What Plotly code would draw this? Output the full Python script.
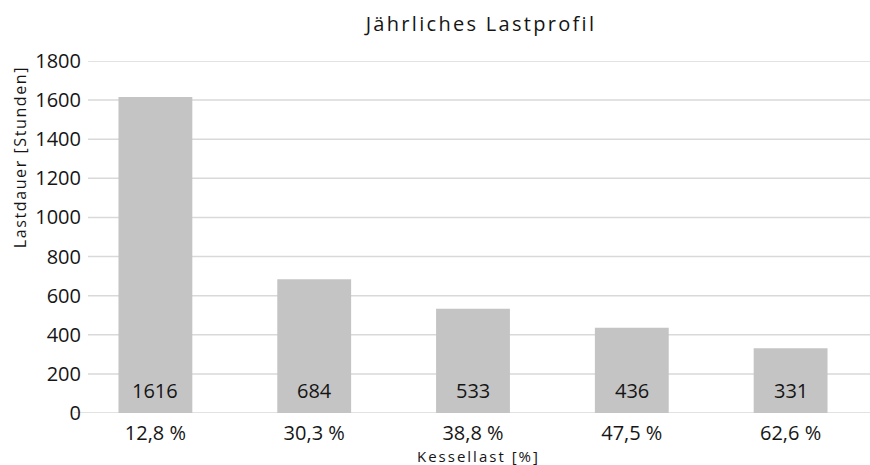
import plotly.graph_objects as go

# Annual load profile of the boiler
kessellast = ["12,8 %", "30,3 %", "38,8 %", "47,5 %", "62,6 %"]
lastdauer = [1616, 684, 533, 436, 331]
y_ticks = [0, 200, 400, 600, 800, 1000, 1200, 1400, 1600, 1800]

FONT = "Open Sans"
TEXT = "#151515"
BAR_COLOR = "#c4c4c4"
GRID_COLOR = "#d9d9d9"

# plot area in pixels (for placing titles relative to it)
L, R, T, B, W, H = 76, 870, 61, 413, 870, 465
PW, PH = R - L, B - T

fig = go.Figure(
    go.Bar(
        x=kessellast,
        y=lastdauer,
        marker=dict(color=BAR_COLOR, line=dict(width=0)),
        width=0.465,
        hoverinfo="skip",
    )
)

# horizontal gridlines, starting a little right of the plot edge
for v in y_ticks:
    fig.add_shape(
        type="line", layer="below",
        xref="paper", yref="y",
        x0=(74 - L) / PW if v == 0 else (88 - L) / PW, x1=1,
        y0=v, y1=v,
        line=dict(color=GRID_COLOR, width=1.5),
    )

# value labels sitting at the bottom of each bar
for cat, val in zip(kessellast, lastdauer):
    fig.add_annotation(
        x=cat, y=0, text=str(val), showarrow=False,
        yanchor="bottom", yshift=7,
        font=dict(family=FONT, size=20, color=TEXT),
    )

fig.update_layout(
    width=W, height=H,
    margin=dict(l=L, r=W - R, t=T, b=H - B),
    paper_bgcolor="white", plot_bgcolor="white",
    showlegend=False,
    title=dict(
        text="Jährliches Lastprofil", x=481 / W, xanchor="center",
        y=1 - 24 / H, yanchor="middle",
        font=dict(family=FONT, size=20, color=TEXT),
    ),
    font=dict(family=FONT, color=TEXT),
)

fig.update_xaxes(
    showgrid=False, showline=False, zeroline=False,
    ticks="", ticklabelstandoff=6,
    tickfont=dict(family=FONT, size=20, color=TEXT),
)
fig.update_yaxes(
    range=[0, 1800], tickvals=y_ticks,
    showgrid=False, zeroline=False, showline=False,
    ticks="", ticklabelstandoff=-6,
    tickfont=dict(family=FONT, size=20, color=TEXT),
)

# axis titles
fig.add_annotation(
    text="Kessellast [%]",
    xref="paper", yref="paper", x=(478 - L) / PW, y=-(456 - B) / PH,
    xanchor="center", yanchor="middle", showarrow=False,
    font=dict(family=FONT, size=15, color=TEXT),
)
fig.add_annotation(
    text="Lastdauer [Stunden]", textangle=-90,
    xref="paper", yref="paper", x=(20 - L) / PW, y=(B - 157) / PH,
    xanchor="center", yanchor="middle", showarrow=False,
    font=dict(family=FONT, size=16, color=TEXT),
)

# spaced lettering for the title texts
fig.write_html(
    "out.html",
    post_script=(
        "document.querySelectorAll('.gtitle').forEach(function(e){e.style.letterSpacing='2.3px';});"
        "document.querySelectorAll('.annotation-text').forEach(function(e){"
        "var t=e.textContent;"
        "if(t.indexOf('Kessel')===0){e.style.letterSpacing='2px';}"
        "else if(!/^\\d+$/.test(t)){e.style.letterSpacing='1.6px';}});"
    ),
)
